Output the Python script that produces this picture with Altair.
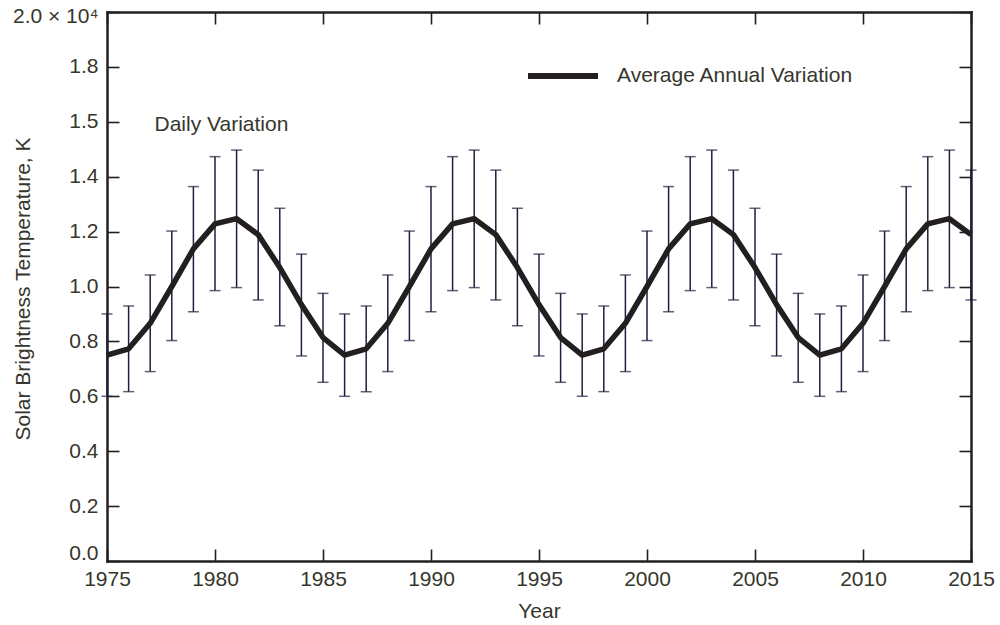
import altair as alt
import pandas as pd

# ---------------- data (values in units of 10^4 K) ----------------
years = list(range(1975, 2016))

avg_annual = [
    0.750, 0.773, 0.866, 1.000, 1.137, 1.228, 1.247, 1.189, 1.069, 0.934, 0.814,
    0.750, 0.773, 0.866, 1.000, 1.137, 1.228, 1.247, 1.189, 1.069, 0.934, 0.814,
    0.750, 0.773, 0.866, 1.000, 1.137, 1.228, 1.247, 1.189, 1.069, 0.934, 0.814,
    0.750, 0.773, 0.866, 1.000, 1.137, 1.228, 1.247, 1.189,
]
daily_high = [
    0.900, 0.929, 1.042, 1.202, 1.364, 1.473, 1.497, 1.424, 1.285, 1.118, 0.975,
    0.900, 0.929, 1.042, 1.202, 1.364, 1.473, 1.497, 1.424, 1.285, 1.118, 0.975,
    0.900, 0.929, 1.042, 1.202, 1.364, 1.473, 1.497, 1.424, 1.285, 1.118, 0.975,
    0.900, 0.929, 1.042, 1.202, 1.364, 1.473, 1.497, 1.424,
]
daily_low = [
    0.600, 0.617, 0.690, 0.803, 0.908, 0.985, 0.996, 0.951, 0.857, 0.747, 0.651,
    0.600, 0.617, 0.690, 0.803, 0.908, 0.985, 0.996, 0.951, 0.857, 0.747, 0.651,
    0.600, 0.617, 0.690, 0.803, 0.908, 0.985, 0.996, 0.951, 0.857, 0.747, 0.651,
    0.600, 0.617, 0.690, 0.803, 0.908, 0.985, 0.996, 0.951,
]

x_ticks = [1975, 1980, 1985, 1990, 1995, 2000, 2005, 2010, 2015]
y_ticks = [0.0, 0.2, 0.4, 0.6, 0.8, 1.0, 1.2, 1.4, 1.6, 1.8, 2.0]

series_name = ["Average Annual Variation"]
annot_text = ["Daily Variation"]
annot_year = [1977.2]
annot_value = [1.566]

df = pd.DataFrame({
    "Year": years,
    "avg": avg_annual,
    "hi": daily_high,
    "lo": daily_low,
    "series": series_name * len(years),
})
annot_df = pd.DataFrame({"text": annot_text, "year": annot_year, "value": annot_value})

# ---------------- style ----------------
FONT = "Liberation Sans"
TXT = "#36362c"
FRAME = "#231f20"
BAR = "#1e1e3c"
FS = 21

xscale = alt.Scale(domain=[1975, 2015], nice=False, zero=False)
yscale = alt.Scale(domain=[0, 2.0], nice=False, zero=True)

common = dict(
    domainColor=FRAME, domainWidth=2.5, domainCap="square",
    tickColor=FRAME, tickWidth=1.6, tickSize=alt.ExprRef("-12"),
    grid=False, labelFont=FONT, labelFontSize=FS, labelColor=TXT,
    titleFont=FONT, titleFontSize=FS, titleColor=TXT, titleFontWeight="normal",
    labelOverlap=False, labelFlush=False,
)

x_bottom = alt.Axis(orient="bottom", values=x_ticks, format="d", labelPadding=19,
                    title="Year", titleX=432, titleY=56, titleAlign="center",
                    titleBaseline="alphabetic", **common)
y_left = alt.Axis(orient="left", values=y_ticks, labelPadding=21,
                  labelExpr="datum.value >= 1.99 ? '2.0 × 10⁴' : (abs(datum.value - 1.6) < 0.001 ? '1.5' : format(datum.value, '.1f'))",
                  labelOffset={"condition": [
                      {"test": "datum.value < 0.01", "value": -8},
                      {"test": "datum.value > 1.99", "value": 4},
                  ], "value": 0},
                  title="Solar Brightness Temperature, K", titleX=-78, titleY=276.5,
                  titleAngle=270, titleAlign="center", titleBaseline="alphabetic", **common)
x_top = alt.Axis(orient="top", values=x_ticks, labels=False, title=None, **common)
y_right = alt.Axis(orient="right", values=y_ticks, labels=False, title=None, **common)

base = alt.Chart(df)

bars = base.mark_rule(color=BAR, strokeWidth=1.5).encode(
    x=alt.X("Year:Q", scale=xscale, axis=x_top),
    y=alt.Y("lo:Q", scale=yscale, axis=y_right),
    y2="hi:Q",
)
cap_hi = base.mark_tick(orient="horizontal", color=BAR, thickness=1.5, size=11).encode(
    x=alt.X("Year:Q", scale=xscale, axis=None),
    y=alt.Y("hi:Q", scale=yscale, axis=None),
)
cap_lo = base.mark_tick(orient="horizontal", color=BAR, thickness=1.5, size=11).encode(
    x=alt.X("Year:Q", scale=xscale, axis=None),
    y=alt.Y("lo:Q", scale=yscale, axis=None),
)
line = base.mark_line(strokeWidth=5.5, strokeJoin="round").encode(
    x=alt.X("Year:Q", scale=xscale, axis=x_bottom),
    y=alt.Y("avg:Q", scale=yscale, axis=y_left),
    color=alt.Color("series:N", scale=alt.Scale(range=[FRAME]),
                    legend=alt.Legend(orient="none", legendX=418, legendY=26, title=None,
                                      symbolType="stroke", symbolSize=4900,
                                      symbolStrokeWidth=6, labelOffset=16, padding=0,
                                      labelLimit=600,
                                      labelFont=FONT, labelFontSize=FS, labelColor=TXT)),
)
annot = alt.Chart(annot_df).mark_text(align="left", baseline="alphabetic", font=FONT,
                                     fontSize=FS, color=TXT).encode(
    x=alt.X("year:Q", scale=xscale, axis=None),
    y=alt.Y("value:Q", scale=yscale, axis=None),
    text="text:N",
)

chart = alt.layer(bars, cap_hi, cap_lo, line, annot).resolve_axis(
    x="independent", y="independent"
).properties(
    width=864, height=549,
    autosize=alt.AutoSizeParams(type="none"),
    padding={"left": 107, "top": 12, "right": 29, "bottom": 64},
    background="white",
).configure_view(stroke=None)

chart.save("out.html", embed_options={"renderer": "svg", "actions": False})
